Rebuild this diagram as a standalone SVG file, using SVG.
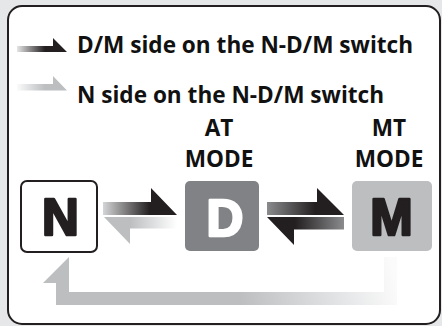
<svg xmlns="http://www.w3.org/2000/svg" width="442" height="326" viewBox="0 0 442 326">
<defs>
<style>
.t{font-family:"Open Sans","Liberation Sans",sans-serif;font-weight:700;fill:#111;font-size:22.6px}
.c{text-anchor:middle}
.big{font-family:"Liberation Sans",Arial,sans-serif;font-weight:700;font-size:51px;text-anchor:middle;stroke-width:2.6px;stroke-linejoin:round}
</style>
<linearGradient id="gLegDark" gradientUnits="userSpaceOnUse" x1="15" y1="0" x2="45" y2="0"><stop offset="0" stop-color="#f4f4f4"/><stop offset="1" stop-color="#231f20"/></linearGradient>
<linearGradient id="gLegGray" gradientUnits="userSpaceOnUse" x1="15" y1="0" x2="45" y2="0"><stop offset="0" stop-color="#ffffff"/><stop offset="1" stop-color="#bcbec0"/></linearGradient>
<linearGradient id="gND1" gradientUnits="userSpaceOnUse" x1="103" y1="0" x2="150" y2="0"><stop offset="0" stop-color="#d4d5d6"/><stop offset="1" stop-color="#231f20"/></linearGradient>
<linearGradient id="gND2" gradientUnits="userSpaceOnUse" x1="130" y1="0" x2="177" y2="0"><stop offset="0" stop-color="#bcbec0"/><stop offset="1" stop-color="#ffffff"/></linearGradient>
<linearGradient id="gDM1" gradientUnits="userSpaceOnUse" x1="267" y1="0" x2="315" y2="0"><stop offset="0" stop-color="#8a8b8d"/><stop offset="1" stop-color="#231f20"/></linearGradient>
<linearGradient id="gDM2" gradientUnits="userSpaceOnUse" x1="295" y1="0" x2="344" y2="0"><stop offset="0" stop-color="#231f20"/><stop offset="1" stop-color="#8a8b8d"/></linearGradient>
<linearGradient id="gRet" gradientUnits="userSpaceOnUse" x1="240" y1="300" x2="392" y2="265"><stop offset="0" stop-color="#bcbec0"/><stop offset="0.7" stop-color="#e8e9ea"/><stop offset="1" stop-color="#fbfbfb"/></linearGradient>
</defs>
<rect x="0" y="0" width="442" height="326" fill="#e6e7e8"/>
<rect x="8" y="6" width="432" height="318" rx="14" fill="#ffffff" stroke="#231f20" stroke-width="2"/>
<g id="legend">
<polygon points="17,46 53,46 53,38 67,52 17,52" fill="url(#gLegDark)"/>
<text class="t" x="77" y="53">D/M side on the N-D/M switch</text>
<polygon points="17,84 53,84 53,76 67,90.5 17,90.5" fill="url(#gLegGray)"/>
<text class="t" x="77" y="103">N side on the N-D/M switch</text>
</g>
<g id="node-N">
<rect x="21" y="181" width="76" height="71" rx="6" fill="#ffffff" stroke="#231f20" stroke-width="2"/>
<text class="big" x="60.5" y="235" fill="#231f20" stroke="#231f20">N</text>
</g>
<g id="node-D">
<text class="t c" x="219" y="136">AT</text>
<text class="t c" x="219" y="167">MODE</text>
<rect x="185" y="181" width="74" height="70" rx="5" fill="#808285"/>
<text class="big" x="225" y="236" fill="#ffffff" stroke="#ffffff">D</text>
</g>
<g id="node-M">
<text class="t c" x="389" y="136">MT</text>
<text class="t c" x="389" y="167">MODE</text>
<rect x="352" y="181" width="80" height="70" rx="5" fill="#bcbec0"/>
<text class="big" x="391.5" y="235" fill="#231f20" stroke="#231f20">M</text>
</g>
<g id="connectors">
<polygon points="103,202 151,202 151,188 177,215 103,215" fill="url(#gND1)"/>
<polygon points="104,217 177,217 177,228.5 130,228.5 130,244" fill="url(#gND2)"/>
<polygon points="267,202 317,202 317,188 344,215 267,215" fill="url(#gDM1)"/>
<polygon points="267,217 344,217 344,229.5 294,229.5 294,245" fill="url(#gDM2)"/>
<polygon points="69,257 43,283 56,283 56,305 397,305 397,257 384,257 384,292 69,292" fill="url(#gRet)"/>
</g>
</svg>
